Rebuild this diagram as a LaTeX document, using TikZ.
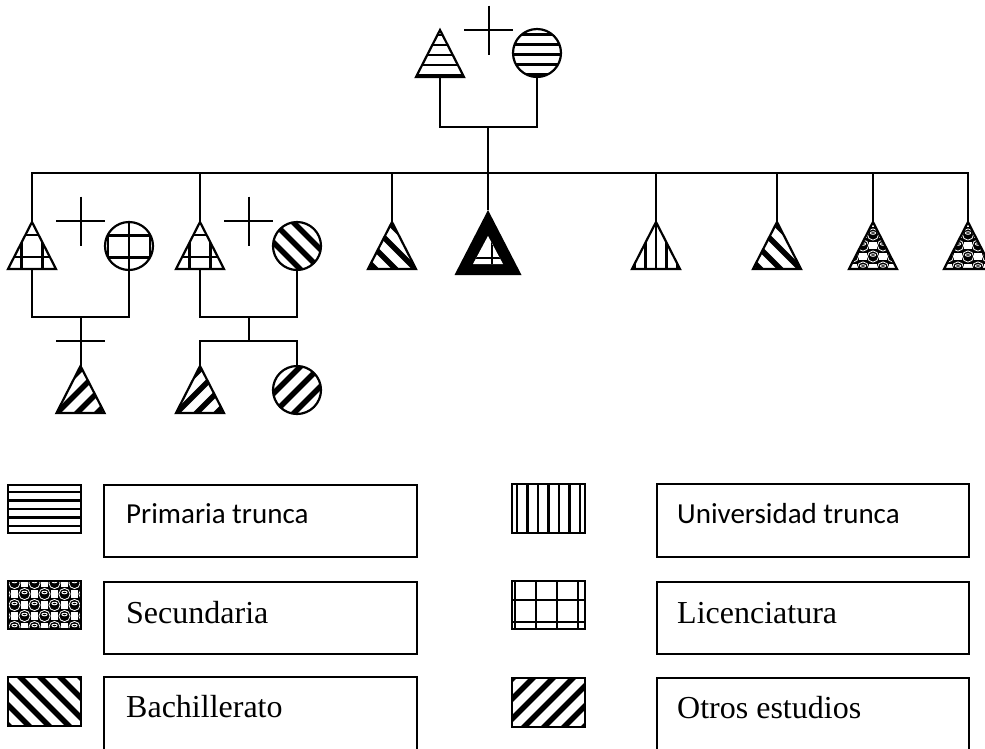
\documentclass[tikz,border=0pt]{standalone}
\usepackage{fontspec}
\setmainfont{Liberation Serif}
\newfontfamily\calib{Carlito}
\tikzset{
  ln/.style={line width=2pt},
  shp/.style={line width=2.2pt, line join=miter},
  legbox/.style={line width=2pt},
  swatch/.style={line width=2pt},
  ctxt/.style={anchor=base west, inner sep=0pt, font=\calib\fontsize{29}{34}\selectfont},
  stxt/.style={anchor=base west, inner sep=0pt, font=\fontsize{32}{38}\selectfont},
}
% patterns, local coordinates around (0,0)
\newcommand\patH[2]{\foreach \k in {-5,...,5} \draw[line width=2.2pt] (-50,#2+\k*#1) -- (50,#2+\k*#1);}
\newcommand\patV{\foreach \k in {-4,...,4} \draw[line width=2.2pt] (\k*10.5,-50) -- (\k*10.5,50);}
\newcommand\patG[2]{\foreach \k in {-3,...,3} {\draw[line width=2.4pt] (#1+\k*21,-50) -- (#1+\k*21,50);
   \draw[line width=2.4pt] (-50,#2+\k*22) -- (50,#2+\k*22);}}
\newcommand\patB{\foreach \a in {-100,-80,...,100} \draw[line width=5.5pt] (\a-50,-50) -- (\a+50,50);}
\newcommand\patO{\foreach \a in {-100,-80,...,100} \draw[line width=5.5pt] (\a+50,-50) -- (\a-50,50);}
\newcommand\secrow[2]{% y, x offset
  \foreach \i in {-3,...,3} {
    \fill[white] (\i*20+#2-3.8,#1-3.8) rectangle ++(7.6,7.6);
    \draw[white, line width=0.8pt] (\i*20+#2+10,#1) circle[radius=5.6];
    \draw[white, line width=0.9pt] (\i*20+#2+10,#1-1.5) ellipse[x radius=2.6, y radius=1.3];}}
\newcommand\patS{\fill (-50,-50) rectangle (50,50);
  \foreach \j in {-3,...,3} {\secrow{\j*22}{0}\secrow{\j*22+11}{10}}}
% individuals
\newcommand\indT[4]{% name, cx, apex y, pattern
  \coordinate (#1) at (#2,#3+23.5);
  \coordinate (#1-t) at (#2,#3);
  \coordinate (#1-b) at (#2,#3+47);
  \begin{scope}
    \clip (#2,#3) -- (#2+24,#3+47) -- (#2-24,#3+47) -- cycle;
    \begin{scope}[shift={(#1)}] #4 \end{scope}
  \end{scope}
  \draw[shp] (#2,#3) -- (#2+24,#3+47) -- (#2-24,#3+47) -- cycle;}
\newcommand\indC[4]{% name, cx, cy, pattern
  \coordinate (#1) at (#2,#3);
  \coordinate (#1-t) at (#2,#3-24);
  \coordinate (#1-b) at (#2,#3+24);
  \begin{scope}
    \clip (#2,#3) circle[radius=24];
    \begin{scope}[shift={(#1)}] #4 \end{scope}
  \end{scope}
  \draw[shp] (#2,#3) circle[radius=24];}
\newcommand\swt[6]{% name, x1,y1,x2,y2, pattern
  \coordinate (#1) at ({(#2+#4)/2},{(#3+#5)/2});
  \begin{scope}
    \clip (#2,#3) rectangle (#4,#5);
    \begin{scope}[shift={(#1)}] #6 \end{scope}
  \end{scope}
  \draw[swatch] (#2,#3) rectangle (#4,#5);}
\newcommand\xcross[3]{% name, cx, cy
  \coordinate (#1) at (#2,#3);
  \draw[ln] (#2-24.5,#3) -- (#2+24.5,#3) (#2,#3-24.5) -- (#2,#3+24.5);}
\begin{document}
\begin{tikzpicture}[x=1pt,y=-1pt]
\useasboundingbox (0,0) rectangle (985,748);
% --- generation I
\indT{F}{440}{30}{\patH{10}{-8.5}}
\indC{M}{537}{53}{\patH{10}{1.5}}
\xcross{x0}{488.5}{30}
\coordinate (u0) at (488,127);
\draw[ln] (F-b) |- (u0) -| (M-b);
% --- generation II
\indT{S1}{32}{222}{\patG{10.5}{11.5}}
\indC{W1}{129}{246}{\patG{0}{11.5}}
\xcross{x1}{80.5}{221}
\indT{S2}{200}{222}{\patG{10.5}{11.5}}
\indC{W2}{297}{246}{\patB}
\xcross{x2}{248.5}{221}
\indT{S3}{392}{222}{\patB}
% proband
\coordinate (P) at (488,243);
\coordinate (P-t) at (488,210);
\fill (488,210) -- (521.5,275) -- (454.5,275) -- cycle;
\fill[white] (488,236) -- (503,264) -- (473,264) -- cycle;
\begin{scope}
  \clip (488,236) -- (503,264) -- (473,264) -- cycle;
  \draw[line width=1.6pt] (492,230) -- (492,270) (470,258) -- (506,258);
\end{scope}
\indT{S5}{656}{222}{\patV}
\indT{S6}{777}{222}{\patB}
\indT{S7}{873}{222}{\patS}
\indT{S8}{968}{222}{\patS}
\coordinate (sR) at (968,173);
\draw[ln] (S1-t) |- (sR) -- (S8-t);
\draw[ln] (u0) -- (P-t);
\foreach \n in {S2,S3,S5,S6,S7} \draw[ln] (\n-t) -- (\n-t |- sR);
% --- generation III
\coordinate (u1) at (80.5,317);
\draw[ln] (S1-b) |- (u1) -| (W1-b);
\indT{G1}{80.5}{366}{\patO}
\draw[ln] (u1) -- (G1-t);
\coordinate (x3) at (80.5,341);
\draw[ln] (56,341) -- (105,341);
\coordinate (u2) at (248.5,317);
\coordinate (u2s) at (248.5,341);
\draw[ln] (S2-b) |- (u2) -| (W2-b);
\draw[ln] (u2) -- (u2s);
\indT{G2}{200}{366}{\patO}
\indC{G3}{297}{390}{\patO}
\draw[ln] (G2-t) |- (u2s) -| (G3-t);
% --- legend
\swt{k1}{8}{485}{81}{533}{\patH{8.5}{0}}
\draw[legbox] (104,485) rectangle (417,557);
\node[ctxt] (t1) at (126,523) {Primaria trunca};
\swt{k2}{8}{581}{81}{629}{\patS}
\draw[legbox] (104,582) rectangle (417,654);
\node[stxt] (t2) at (126,623) {Secundaria};
\swt{k3}{8}{677}{81}{726}{\patB}
\draw[legbox] (104,760) -- (104,677) -- (417,677) -- (417,760);
\node[stxt] (t3) at (126,717) {Bachillerato};
\swt{k4}{512}{484}{585}{533}{\patV}
\draw[legbox] (657,484) rectangle (969,557);
\node[ctxt] (t4) at (677,523) {Universidad trunca};
\swt{k5}{512}{581}{585}{629}{\patG{8.5}{-5}}
\draw[legbox] (657,582) rectangle (969,654);
\node[stxt] (t5) at (677,623) {Licenciatura};
\swt{k6}{512}{678}{585}{727}{\patO}
\draw[legbox] (657,760) -- (657,678) -- (969,678) -- (969,760);
\node[stxt] (t6) at (677,718) {Otros estudios};
\end{tikzpicture}
\end{document}
